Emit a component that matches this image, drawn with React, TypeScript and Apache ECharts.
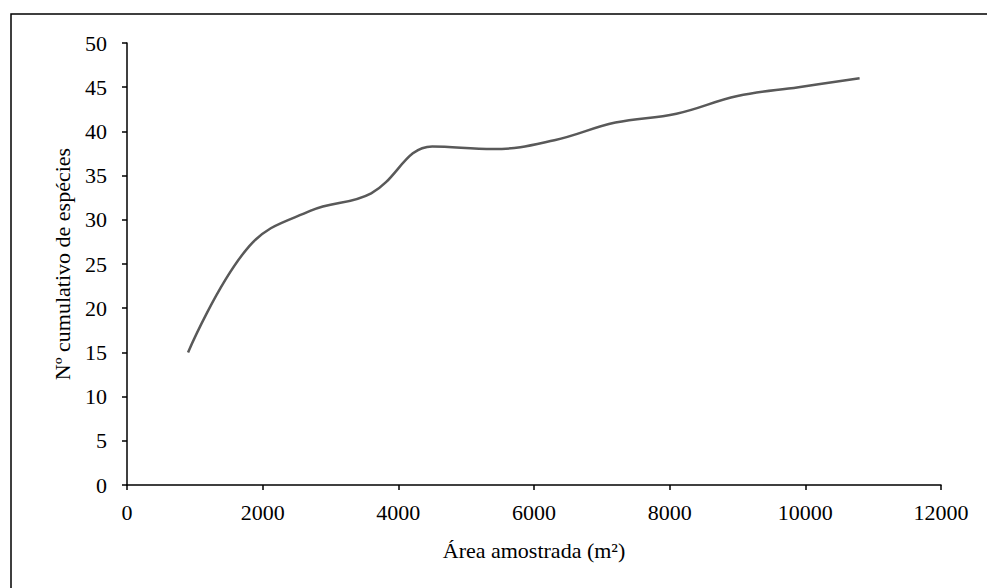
import React, { useEffect, useRef } from "react";
import * as echarts from "echarts";

const areas = [900, 1800, 2700, 3600, 4500, 5400, 6300, 7200, 8100, 9000, 9900, 10800];
const species = [15, 27, 31, 33, 38.3, 38, 39, 41, 42, 44, 45, 46];
const xTitle = "Área amostrada (m²)";
const yTitle = "Nº cumulativo de espécies";

const FONT = "'Liberation Serif', 'Times New Roman', serif";
const FS = 22;

export default function App() {
  const ref = useRef<HTMLDivElement>(null);
  useEffect(() => {
    if (!ref.current) return;
    const chart = echarts.init(ref.current, null, { renderer: "svg" });
    chart.setOption({
      animation: false,
      backgroundColor: "#ffffff",
      textStyle: { fontFamily: FONT },
      graphic: [
        {
          type: "rect",
          shape: { x: 11, y: 14, width: 1100, height: 700 },
          style: { fill: "none", stroke: "#000", lineWidth: 1.5 },
          silent: true,
          z: -1,
        },
      ],
      grid: { left: 127, right: 46, top: 43, bottom: 103, containLabel: false },
      xAxis: {
        type: "value",
        min: 0,
        max: 12000,
        interval: 2000,
        name: xTitle,
        nameLocation: "middle",
        nameGap: 54,
        nameTextStyle: { fontFamily: FONT, fontSize: FS, color: "#000", verticalAlign: "top" },
        axisLine: { show: true, onZero: false, lineStyle: { color: "#000", width: 1.5 } },
        axisTick: { show: true, inside: false, length: 5, lineStyle: { color: "#000", width: 1.5 } },
        axisLabel: {
          fontFamily: FONT,
          fontSize: FS,
          color: "#000",
          margin: 16,
          formatter: (v: number) => String(v),
        },
        splitLine: { show: false },
      },
      yAxis: {
        type: "value",
        min: 0,
        max: 50,
        interval: 5,
        name: yTitle,
        nameLocation: "middle",
        nameGap: 54,
        nameRotate: 90,
        nameTextStyle: { fontFamily: FONT, fontSize: FS, color: "#000" },
        axisLine: { show: true, lineStyle: { color: "#000", width: 1.5 } },
        axisTick: { show: true, inside: false, length: 5, lineStyle: { color: "#000", width: 1.5 } },
        axisLabel: {
          fontFamily: FONT,
          fontSize: FS,
          color: "#000",
          margin: 20,
          formatter: (v: number) => String(v),
        },
        splitLine: { show: false },
      },
      series: [
        {
          type: "line",
          data: areas.map((a, i) => [a, species[i]]),
          smooth: 0.4,
          showSymbol: false,
          symbol: "none",
          lineStyle: { color: "#595959", width: 2.5 },
        },
      ],
    });
    return () => chart.dispose();
  }, []);
  return (
    <div
      ref={ref}
      style={{ position: "absolute", left: 0, top: 0, width: 987, height: 588 }}
    />
  );
}
